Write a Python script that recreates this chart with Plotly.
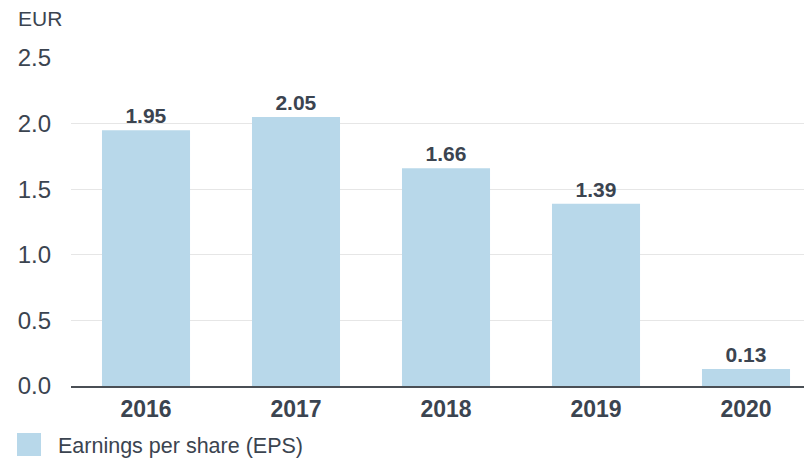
import plotly.graph_objects as go

years = ["2016", "2017", "2018", "2019", "2020"]
eps = [1.95, 2.05, 1.66, 1.39, 0.13]
eps_labels = ["1.95", "2.05", "1.66", "1.39", "0.13"]
y_ticks = [0.0, 0.5, 1.0, 1.5, 2.0, 2.5]
y_tick_text = ["0.0", "0.5", "1.0", "1.5", "2.0", "2.5"]

bar_color = "#b8d8ea"
dark = "#3b4450"
font_family = "Liberation Sans, Arial, Helvetica, sans-serif"

fig = go.Figure()
fig.add_trace(go.Bar(
    x=years, y=eps, width=0.587,
    marker=dict(color=bar_color, line=dict(width=0)),
    text=eps_labels, textposition="outside", cliponaxis=False,
    textfont=dict(family=font_family, size=21, color=dark, weight="bold"),
    name="Earnings per share (EPS)", showlegend=False,
))

fig.update_layout(
    width=812, height=462,
    margin=dict(l=63, r=8, t=50, b=84, autoexpand=False),
    paper_bgcolor="white", plot_bgcolor="white",
    font=dict(family=font_family, color=dark),
    xaxis=dict(
        type="category", range=[-0.5, 4.44],
        showline=True, linecolor="#4a4f55", linewidth=2,
        showgrid=False, ticks="", ticklabelstandoff=1,
        tickfont=dict(family=font_family, size=23, color=dark, weight="bold"),
    ),
    yaxis=dict(
        range=[0, 2.5], tickvals=y_ticks, ticktext=y_tick_text,
        showgrid=True, gridcolor="#e6e6e6", gridwidth=1,
        zeroline=False, showline=False, ticks="",
        ticklabelstandoff=19,
        tickfont=dict(family=font_family, size=24, color=dark),
    ),
    annotations=[
        dict(text="EUR", xref="paper", yref="paper", x=-0.0745, y=1.119,
             xanchor="left", yanchor="middle", showarrow=False,
             font=dict(family=font_family, size=21, color=dark)),
        dict(text="Earnings per share (EPS)", xref="paper", yref="paper",
             x=-0.0205, y=-0.183, xanchor="left", yanchor="middle", showarrow=False,
             font=dict(family=font_family, size=21.5, color=dark)),
    ],
    shapes=[
        dict(type="rect", xref="paper", yref="paper",
             x0=-0.0729, x1=-0.0405, y0=-0.1433, y1=-0.2134,
             fillcolor=bar_color, line=dict(width=0)),
    ],
)

fig.write_html("out.html")
